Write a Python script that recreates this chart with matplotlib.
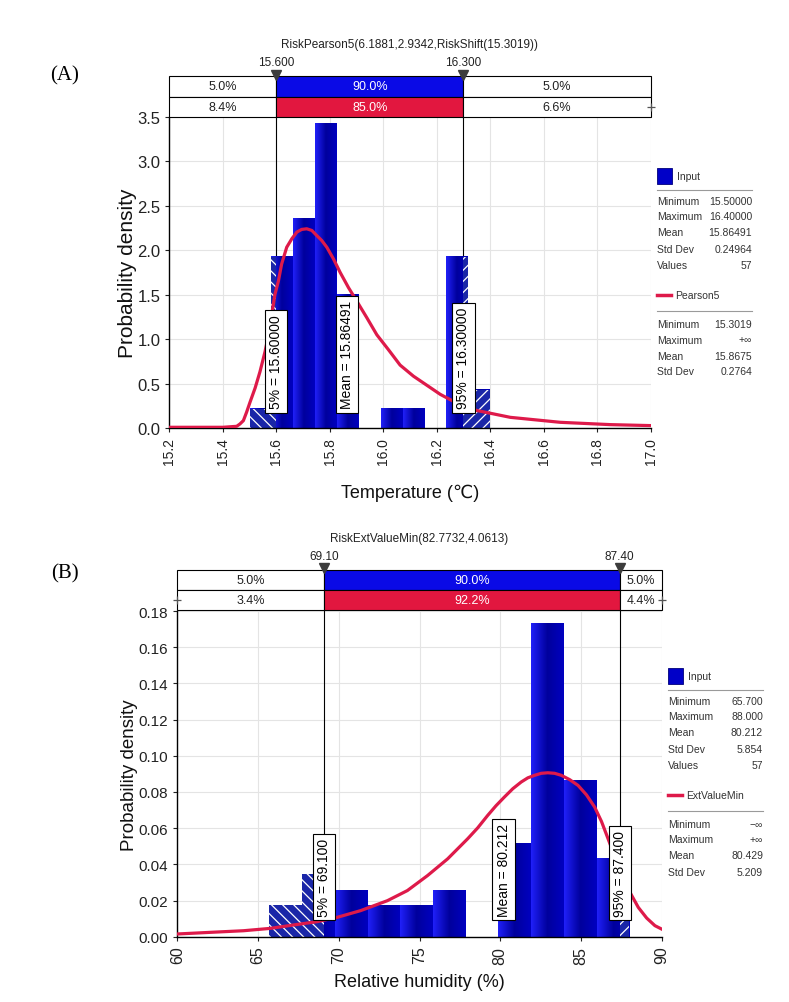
import numpy as np
import matplotlib
matplotlib.use('Agg')
import matplotlib.pyplot as plt
from matplotlib.patches import Rectangle
from matplotlib.lines import Line2D
from matplotlib.colors import LinearSegmentedColormap

plt.rcParams['font.family'] = ['Liberation Sans', 'DejaVu Sans']
plt.rcParams['hatch.linewidth'] = 0.9

W, H = 789, 1003

# ---- (A) temperature ----
a_lo, a_hi = 15.5, 16.4
a_counts = [1, 9, 11, 16, 7, 0, 1, 1, 0, 9, 2]
a_n = 57
a_p5, a_p95, a_mean = 15.6, 16.3, 15.86491
a_curve_x = [15.20, 15.30, 15.40, 15.452, 15.464, 15.477, 15.489, 15.502, 15.521,
             15.539, 15.558, 15.571, 15.583, 15.595, 15.608, 15.620, 15.639, 15.658,
             15.677, 15.695, 15.714, 15.733, 15.751, 15.770, 15.789, 15.814, 15.839,
             15.870, 15.901, 15.939, 15.976, 16.020, 16.063, 16.113, 16.163, 16.213,
             16.263, 16.350, 16.475, 16.662, 16.849, 17.0]
a_curve_y = [0.008, 0.008, 0.008, 0.019, 0.045, 0.083, 0.178, 0.292, 0.451,
             0.633, 0.860, 1.049, 1.277, 1.504, 1.655, 1.845, 2.034, 2.129,
             2.205, 2.235, 2.242, 2.223, 2.167, 2.110, 2.034, 1.902, 1.750,
             1.580, 1.428, 1.239, 1.049, 0.879, 0.708, 0.583, 0.481, 0.379,
             0.299, 0.197, 0.120, 0.064, 0.038, 0.027]
a_row1 = ['5.0%', '90.0%', '5.0%']
a_row2 = ['8.4%', '85.0%', '6.6%']
a_marks = ['15.600', '16.300']
a_boxes = ['5% = 15.60000', 'Mean = 15.86491', '95% = 16.30000']
a_title = 'RiskPearson5(6.1881,2.9342,RiskShift(15.3019))'
a_input = [('Minimum', '15.50000'), ('Maximum', '16.40000'), ('Mean', '15.86491'),
           ('Std Dev', '0.24964'), ('Values', '57')]
a_fit_name = 'Pearson5'
a_fit = [('Minimum', '15.3019'), ('Maximum', '+\u221e'), ('Mean', '15.8675'),
         ('Std Dev', '0.2764')]

# ---- (B) relative humidity ----
b_lo, b_hi = 65.7, 88.0
b_counts = [2, 4, 3, 2, 2, 3, 0, 6, 20, 10, 5]
b_n = 57
b_p5, b_p95, b_mean = 69.1, 87.4, 80.212
b_curve_x = [60.0, 62.03, 64.1, 65.76, 67.21, 68.66, 69.9, 71.35, 73.01, 74.25,
             75.5, 76.74, 77.98, 78.60, 79.22, 79.74, 80.26, 80.78, 81.30, 81.71,
             82.13, 82.54, 82.95, 83.37, 83.78, 84.30, 84.82, 85.34, 85.85, 86.27,
             86.68, 86.99, 87.30, 88.03, 88.55, 89.07, 89.58, 90.0]
b_curve_y = [0.0015, 0.0024, 0.0033, 0.0046, 0.0065, 0.0083, 0.0107, 0.0144, 0.0199,
             0.0255, 0.0338, 0.0430, 0.0541, 0.0601, 0.0670, 0.0724, 0.0772, 0.0818,
             0.0855, 0.0878, 0.0892, 0.0903, 0.0906, 0.0903, 0.0892, 0.0868, 0.0836,
             0.0784, 0.0716, 0.0637, 0.0541, 0.0467, 0.0400, 0.0246, 0.0162, 0.0103,
             0.0061, 0.0042]
b_row1 = ['5.0%', '90.0%', '5.0%']
b_row2 = ['3.4%', '92.2%', '4.4%']
b_marks = ['69.10', '87.40']
b_boxes = ['5% = 69.100', 'Mean = 80.212', '95% = 87.400']
b_title = 'RiskExtValueMin(82.7732,4.0613)'
b_input = [('Minimum', '65.700'), ('Maximum', '88.000'), ('Mean', '80.212'),
           ('Std Dev', '5.854'), ('Values', '57')]
b_fit_name = 'ExtValueMin'
b_fit = [('Minimum', '\u2212\u221e'), ('Maximum', '+\u221e'), ('Mean', '80.429'),
         ('Std Dev', '5.209')]

BLUE = '#0a0ae6'
RED = '#e2173f'
CURVE = '#de1a4a'
bar_cmap = LinearSegmentedColormap.from_list('bar', ['#2020f8', '#00009c', '#0000c0'])

fig = plt.figure(figsize=(W / 100, H / 100), dpi=100)


def px_rect(l, t, r, b):
    return [l / W, 1 - b / H, (r - l) / W, (b - t) / H]


def panel(ax_px, box_px, xlim, xticks, xfmt, ylim, yticks, yfmt, lo, hi, counts, n,
          p5, p95, mean, cx, cy, row1, row2, marks, boxes, title, title_y,
          xlabel, ylabel, xl_y, yl_x, ylab_size, xtick_size, ytick_size, plus_left):
    ax = fig.add_axes(px_rect(*ax_px))
    edges = np.linspace(lo, hi, len(counts) + 1)
    w = edges[1] - edges[0]
    dens = np.array(counts) / (n * w)

    bars = ax.bar(edges[:-1], dens, width=w, align='edge', color=BLUE, lw=0, zorder=2)
    grad = np.linspace(0, 1, 64).reshape(1, -1)
    for r in bars:
        x0, h = r.get_x(), r.get_height()
        if h <= 0:
            continue
        ax.imshow(grad, cmap=bar_cmap, extent=(x0, x0 + w, 0, h), aspect='auto',
                  interpolation='bilinear', zorder=2.1)
        # hatched tails outside the 5%-95% range
        if x0 < p5:
            ax.add_patch(Rectangle((x0, 0), min(x0 + w, p5) - x0, h, facecolor='#1a26a8',
                                   edgecolor='white', hatch='\\\\\\', lw=0, zorder=2.5))
        if x0 + w > p95:
            xs = max(x0, p95)
            ax.add_patch(Rectangle((xs, 0), x0 + w - xs, h, facecolor='#1a26a8',
                                   edgecolor='white', hatch='///', lw=0, zorder=2.5))

    ax.plot(cx, cy, color=CURVE, lw=2.3, zorder=4, solid_joinstyle='round')

    for p in (p5, p95):
        ax.axvline(p, color='black', lw=0.8, zorder=1.8)

    trans = ax.get_xaxis_transform()
    for xp, s in zip((p5, mean, p95), boxes):
        ax.text(xp, 0.063, s, rotation=90, ha='center', va='bottom', fontsize=10,
                transform=trans, zorder=6,
                bbox=dict(boxstyle='square,pad=0.3', fc='white', ec='black', lw=0.8))

    ax.set_xlim(*xlim)
    ax.set_ylim(*ylim)
    ax.set_xticks(xticks)
    ax.set_xticklabels([xfmt % v for v in xticks], rotation=90, fontsize=xtick_size)
    ax.set_yticks(yticks)
    ax.set_yticklabels([yfmt % v for v in yticks], fontsize=ytick_size)
    ax.tick_params(direction='out', length=3, width=0.8, colors='#222222')
    ax.grid(True, color='#e4e4e4', lw=0.8)
    ax.set_axisbelow(True)
    for sp in ('top', 'right'):
        ax.spines[sp].set_visible(False)
    for sp in ('left', 'bottom'):
        ax.spines[sp].set_linewidth(1.0)
    ax.text(0.5, xl_y, xlabel, transform=ax.transAxes, ha='center', va='center',
            fontsize=13, color='#111111')
    ax.text(yl_x, 0.5, ylabel, transform=ax.transAxes, ha='center', va='center',
            rotation=90, fontsize=ylab_size, color='#111111')

    # summary strip above the plot
    bx = fig.add_axes(px_rect(*box_px))
    bx.set_xlim(*xlim)
    bx.set_ylim(0, 2)
    bx.axis('off')
    segs = [(xlim[0], p5), (p5, p95), (p95, xlim[1])]
    for i, (s, e) in enumerate(segs):
        mid = i == 1
        bx.add_patch(Rectangle((s, 1), e - s, 1, fc=BLUE if mid else 'white',
                               ec='black', lw=0.8, clip_on=False))
        bx.add_patch(Rectangle((s, 0), e - s, 1, fc=RED if mid else 'white',
                               ec='black', lw=0.8, clip_on=False))
        bx.text((s + e) / 2, 1.5, row1[i], ha='center', va='center', fontsize=9,
                color='white' if mid else '#222222')
        bx.text((s + e) / 2, 0.5, row2[i], ha='center', va='center', fontsize=9,
                color='white' if mid else '#222222')
    bx.plot([p5, p95], [2.08, 2.08], 'v', color='#3c3c3c', ms=6.5, clip_on=False, zorder=5)
    for xp, s in zip((p5, p95), marks):
        bx.text(xp, 2.42, s, ha='center', va='bottom', fontsize=8.5, color='#222222')
    plus_x = [xlim[1]] + ([xlim[0]] if plus_left else [])
    bx.plot(plus_x, [0.5] * len(plus_x), '+', color='#555555', ms=6, mew=0.9,
            clip_on=False, zorder=5)
    cxp = (ax_px[0] + ax_px[2]) / 2
    fig.text(cxp / W, 1 - title_y / H, title, ha='center', va='center', fontsize=8.5,
             color='#222222')
    return ax


def stats_panel(x0, ysq, inp, fit_name, fit):
    fs = 7.5
    tc = '#333333'
    fig.add_artist(Rectangle((x0 / W, 1 - (ysq + 8) / H), 15 / W, 16 / H,
                             transform=fig.transFigure, fc='#0000c8', ec='#00007a', lw=0.6))
    fig.text((x0 + 20) / W, 1 - ysq / H, 'Input', va='center', fontsize=fs, color=tc)
    fig.add_artist(Line2D([x0 / W, (x0 + 95) / W], [1 - (ysq + 13.5) / H] * 2,
                          color='#9a9a9a', lw=0.8))
    offs = [25, 40.5, 56.5, 73, 89]
    for (k, v), o in zip(inp, offs):
        fig.text(x0 / W, 1 - (ysq + o) / H, k, va='center', fontsize=fs, color=tc)
        fig.text((x0 + 95) / W, 1 - (ysq + o) / H, v, va='center', ha='right',
                 fontsize=fs, color=tc)
    yf = ysq + 119
    fig.add_artist(Line2D([x0 / W, (x0 + 14) / W], [1 - yf / H] * 2, color=CURVE, lw=2.5))
    fig.text((x0 + 18) / W, 1 - yf / H, fit_name, va='center', fontsize=fs, color=tc)
    fig.add_artist(Line2D([x0 / W, (x0 + 95) / W], [1 - (yf + 16) / H] * 2,
                          color='#9a9a9a', lw=0.8))
    offs2 = [29, 44.5, 60.5, 76.5]
    for (k, v), o in zip(fit, offs2):
        fig.text(x0 / W, 1 - (yf + o) / H, k, va='center', fontsize=fs, color=tc)
        fig.text((x0 + 95) / W, 1 - (yf + o) / H, v, va='center', ha='right',
                 fontsize=fs, color=tc)


panel((169.3, 118, 650.7, 429), (169.3, 77.3, 650.7, 118),
      (15.2, 17.0), np.round(np.arange(15.2, 17.01, 0.2), 1), '%.1f',
      (0, 3.5), np.arange(0, 3.51, 0.5), '%.1f',
      a_lo, a_hi, a_counts, a_n, a_p5, a_p95, a_mean, a_curve_x, a_curve_y,
      a_row1, a_row2, a_marks, a_boxes, a_title, 45,
      'Temperature (\u2103)', 'Probability density', -0.206, -0.0858, 15, 10, 12, False)

panel((177.3, 612, 661.7, 937.7), (177.3, 571, 661.7, 611),
      (60, 90), np.arange(60, 91, 5), '%d',
      (0, 0.18), np.arange(0, 0.181, 0.02), '%.2f',
      b_lo, b_hi, b_counts, b_n, b_p5, b_p95, b_mean, b_curve_x, b_curve_y,
      b_row1, b_row2, b_marks, b_boxes, b_title, 539,
      'Relative humidity (%)', 'Probability density', -0.139, -0.098, 13.5, 11.5, 11, True)

stats_panel(657, 177, a_input, a_fit_name, a_fit)
stats_panel(668, 677, b_input, b_fit_name, b_fit)

fig.text(65 / W, 1 - 76 / H, '(A)', ha='center', va='center', fontsize=15,
         family=['Liberation Serif', 'DejaVu Serif'])
fig.text(65 / W, 1 - 574 / H, '(B)', ha='center', va='center', fontsize=15,
         family=['Liberation Serif', 'DejaVu Serif'])

fig.savefig('out.png', dpi=100)
